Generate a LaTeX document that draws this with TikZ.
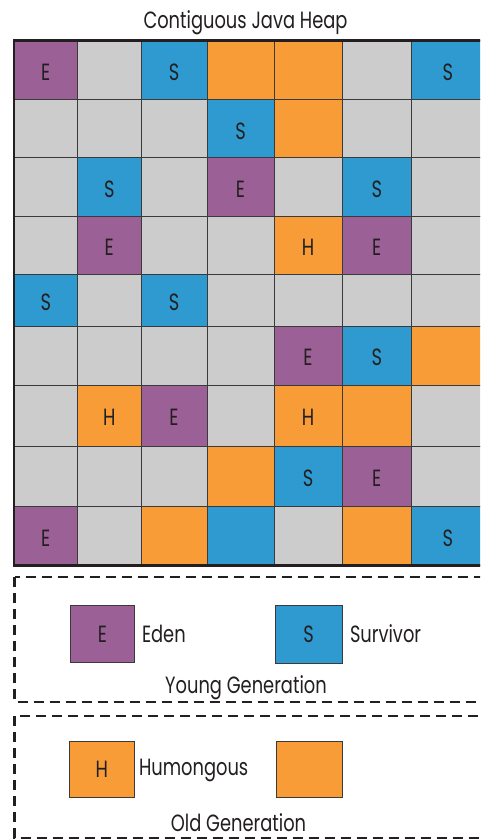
\documentclass[tikz,border=0pt]{standalone}
\usepackage{fontspec}
\setmainfont{Poppins}[FakeStretch=0.76]
\definecolor{ce}{HTML}{9B6196}
\definecolor{cs}{HTML}{2E9AD0}
\definecolor{ch}{HTML}{F89C38}
\definecolor{co}{HTML}{F89C38}
\definecolor{cb}{HTML}{2E9AD0}
\definecolor{cg}{HTML}{CCCCCC}
\definecolor{ink}{HTML}{231F20}
\definecolor{gridline}{HTML}{3A3A3A}
\def\lble{E}\def\lbls{S}\def\lblh{H}\def\lblo{}\def\lblb{}\def\lblg{}
\tikzset{
  cellbox/.style={rectangle, draw=gridline, line width=1pt, inner sep=0pt, outer sep=0pt, text=ink},
  legbox/.style={rectangle, draw=gridline, line width=1pt, inner sep=0pt, outer sep=0pt, text=ink},
  genbox/.style={draw=ink, line width=2.5pt, dash pattern=on 10pt off 6pt},
  lbl/.style={text=ink, inner sep=0pt, outer sep=0pt},
}
\begin{document}
\begin{tikzpicture}[x=1pt,y=-1pt,font=\fontsize{23.5}{28}\selectfont]
\useasboundingbox (0,0) rectangle (480,840);
\clip (0,0) rectangle (480,840);
\fill[white] (0,0) rectangle (480,840);
\def\xs{{14,77.5,141,207,274,342,411.5,484}}
\def\ys{{40.5,100,157.7,216.7,274,326,385,446,506.5,565.5}}
\foreach \row [count=\r from 0] in {
  {e,g,s,o,o,g,s},
  {g,g,g,s,o,g,g},
  {g,s,g,e,g,s,g},
  {g,e,g,g,h,e,g},
  {s,g,s,g,g,g,g},
  {g,g,g,g,e,s,o},
  {g,h,e,g,h,o,g},
  {g,g,g,o,s,e,g},
  {e,g,o,b,g,o,s}} {
  \foreach \t [count=\c from 0] in \row {
    \pgfmathsetmacro\xa{\xs[\c]}
    \pgfmathsetmacro\xb{\xs[\c+1]}
    \pgfmathsetmacro\ya{\ys[\r]}
    \pgfmathsetmacro\yb{\ys[\r+1]}
    \pgfmathsetmacro\cx{(\xa+\xb)/2}
    \pgfmathsetmacro\cy{(\ya+\yb)/2+2}
    \pgfmathsetmacro\w{\xb-\xa}
    \pgfmathsetmacro\h{\yb-\ya}
    \node[cellbox, fill=c\t, minimum width=\w pt, minimum height=\h pt] (cell-\r-\c) at (\cx,{(\ya+\yb)/2}) {};
    \node[lbl] (lab-\r-\c) at (\cx,\cy) {\csname lbl\t\endcsname};
  }
}
\draw[draw=ink, line width=2.5pt] (14,40.5) rectangle (484,565.5);
\node[lbl, anchor=base] (title) at (245.5,28.5) {Contiguous Java Heap};
% Young generation
\draw[genbox] (14.5,577) rectangle (484,702);
\node[legbox, fill=ce, minimum width=64.7pt, minimum height=56.5pt] (eden) at (102.35,633.85) {E};
\node[lbl, anchor=base west] (edentxt) at (142,642) {Eden};
\node[legbox, fill=cs, minimum width=67pt, minimum height=58pt] (surv) at (308.5,634) {S};
\node[lbl, anchor=base west] (survtxt) at (350,642) {Survivor};
\node[lbl, anchor=base] (young) at (246,693) {Young Generation};
% Old generation
\draw[genbox] (14.5,716) rectangle (484,838);
\node[legbox, fill=ch, minimum width=65.7pt, minimum height=56pt] (hum) at (101.85,769) {H};
\node[lbl, anchor=base west] (humtxt) at (139,775) {Humongous};
\node[legbox, fill=co, minimum width=66.7pt, minimum height=56pt] (old) at (309.35,769) {};
\node[lbl, anchor=base] (oldtxt) at (238.5,831.7) {Old Generation};
\end{tikzpicture}
\end{document}
